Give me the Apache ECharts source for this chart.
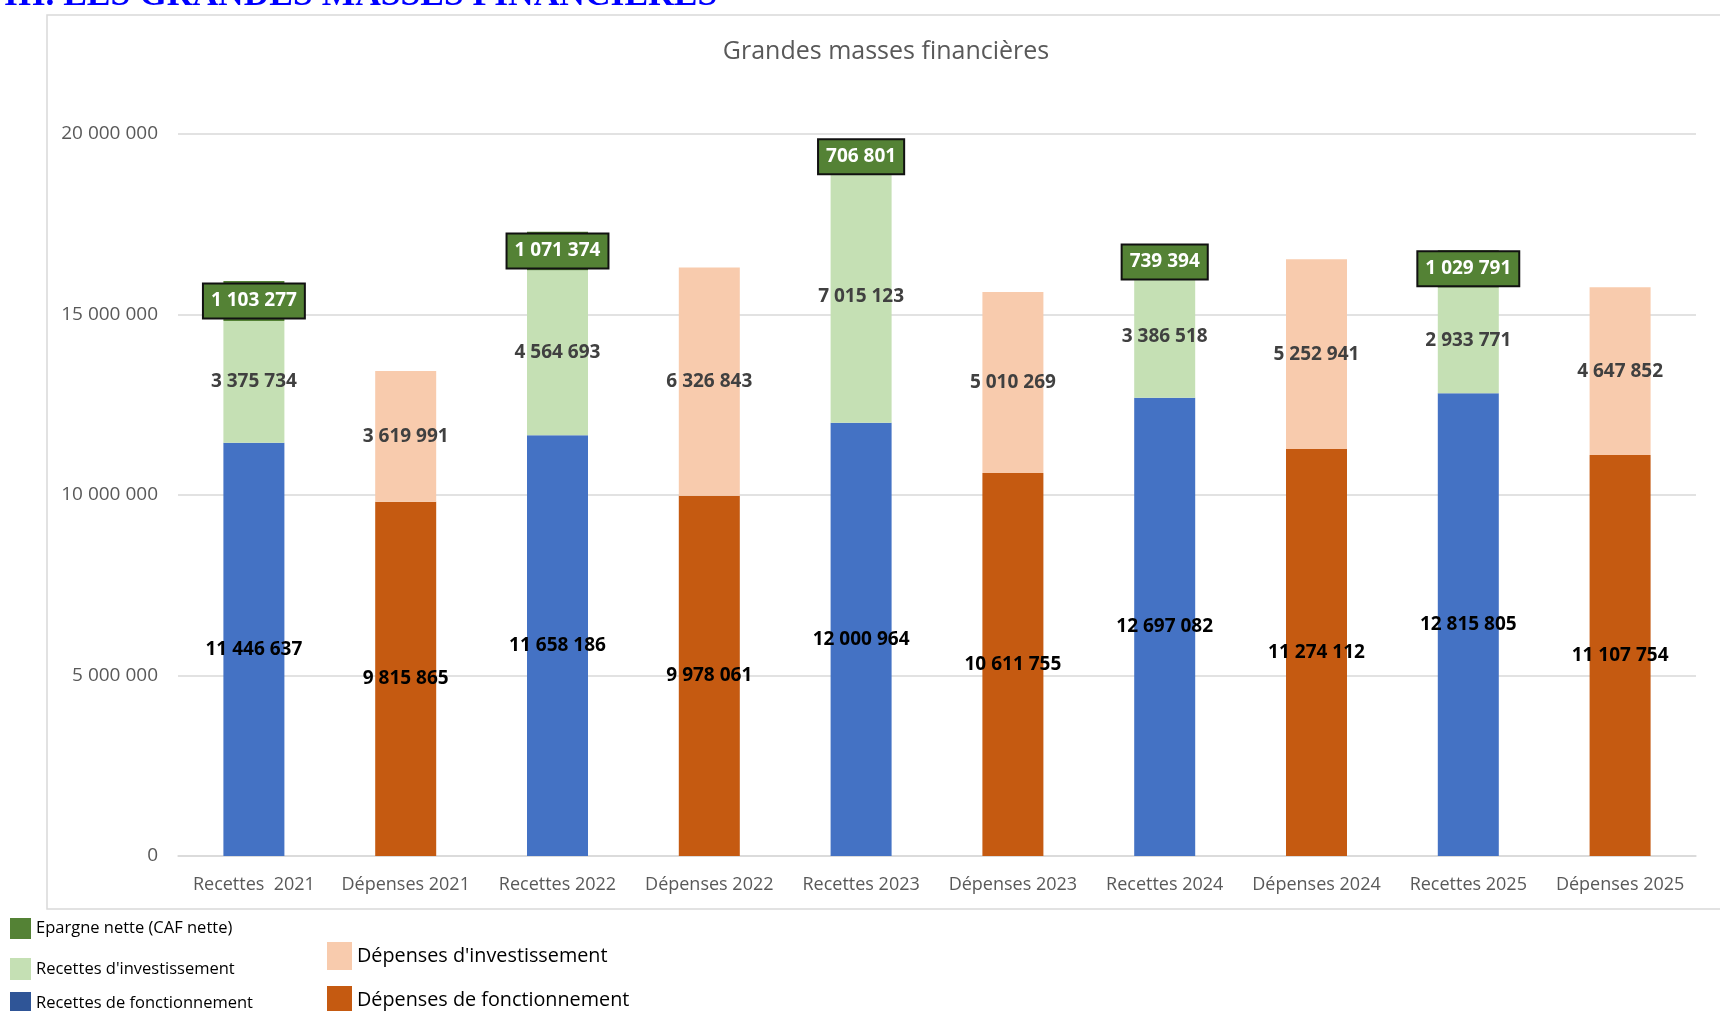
<!DOCTYPE html>
<html lang="fr">
<head>
<meta charset="utf-8">
<title>Grandes masses financières</title>
<script src="https://cdn.jsdelivr.net/npm/echarts@6/dist/echarts.min.js"></script>
<style>
  html, body { margin: 0; padding: 0; background: #fff; }
  #chart { width: 1720px; height: 1011px; }
</style>
</head>
<body>
<div id="chart"></div>
<script>
// Années et libellés des colonnes (recettes puis dépenses pour chaque année)
const years = ['2021', '2022', '2023', '2024', '2025'];
const categories = [
  'Recettes  2021', 'Dépenses 2021', 'Recettes 2022', 'Dépenses 2022',
  'Recettes 2023', 'Dépenses 2023', 'Recettes 2024', 'Dépenses 2024',
  'Recettes 2025', 'Dépenses 2025'
];

// Recettes
const recettesFonctionnement = [11446637, 11658186, 12000964, 12697082, 12815805];
const recettesInvestissement = [3375734, 4564693, 7015123, 3386518, 2933771];
const epargneNette = [1103277, 1071374, 706801, 739394, 1029791];

// Dépenses
const depensesFonctionnement = [9815865, 9978061, 10611755, 11274112, 11107754];
const depensesInvestissement = [3619991, 6326843, 5010269, 5252941, 4647852];

// Graduations de l'axe des valeurs
const yTicks = [0, 5000000, 10000000, 15000000, 20000000];

const FONT = "'Open Sans', 'Noto Sans', sans-serif";

// Place une série annuelle sur les colonnes « Recettes » (0) ou « Dépenses » (1)
function spread(values, slot) {
  const out = [];
  values.forEach(v => {
    if (slot === 0) { out.push(v, null); } else { out.push(null, v); }
  });
  return out;
}

function fmt(v) {
  return String(Math.round(v)).replace(/\B(?=(\d{3})+(?!\d))/g, ' ');
}

const baseLabel = {
  show: true,
  position: 'inside',
  fontFamily: FONT,
  fontWeight: 'bold',
  fontSize: 19,
  formatter: p => (p.value == null ? '' : fmt(p.value))
};

const chart = echarts.init(document.getElementById('chart'), null, { renderer: 'canvas' });

const legendCommon = {
  orient: 'vertical',
  icon: 'rect',
  padding: 0,
  itemGap: 0,
  selectedMode: false
};

chart.setOption({
  animation: false,
  backgroundColor: '#fff',
  grid: { left: 178, right: 24, top: 134, bottom: 155, containLabel: false },
  xAxis: {
    type: 'category',
    data: categories,
    axisLine: { show: true, lineStyle: { color: '#d9d9d9', width: 1.5 } },
    axisTick: { show: false },
    axisLabel: { color: '#595959', fontFamily: FONT, fontSize: 18, margin: 20, interval: 0 }
  },
  yAxis: {
    type: 'value',
    min: yTicks[0],
    max: yTicks[yTicks.length - 1],
    interval: yTicks[1] - yTicks[0],
    axisLine: { show: false },
    axisTick: { show: false },
    splitLine: { lineStyle: { color: '#d9d9d9', width: 1.5 } },
    axisLabel: { color: '#595959', fontFamily: FONT, fontSize: 19, margin: 20, formatter: v => fmt(v) }
  },
  legend: [
    Object.assign({}, legendCommon, {
      left: 10, top: 918, itemWidth: 21, itemHeight: 21,
      textStyle: { fontFamily: FONT, color: '#000', fontSize: 16.5 },
      data: [{ name: 'Epargne nette (CAF nette)', itemStyle: { color: '#548235' } }]
    }),
    Object.assign({}, legendCommon, {
      left: 10, top: 958, itemWidth: 21, itemHeight: 22,
      textStyle: { fontFamily: FONT, color: '#000', fontSize: 16.5 },
      data: [{ name: "Recettes d'investissement", itemStyle: { color: '#C5E0B4' } }]
    }),
    Object.assign({}, legendCommon, {
      left: 10, top: 992, itemWidth: 21, itemHeight: 22,
      textStyle: { fontFamily: FONT, color: '#000', fontSize: 16.5 },
      data: [{ name: 'Recettes de fonctionnement', itemStyle: { color: '#2F5597' } }]
    }),
    Object.assign({}, legendCommon, {
      left: 327, top: 942, itemWidth: 25, itemHeight: 28,
      textStyle: { fontFamily: FONT, color: '#000', fontSize: 19.8 },
      data: [{ name: "Dépenses d'investissement", itemStyle: { color: '#F8CBAD' } }]
    }),
    Object.assign({}, legendCommon, {
      left: 327, top: 986, itemWidth: 25, itemHeight: 28,
      textStyle: { fontFamily: FONT, color: '#000', fontSize: 19.8 },
      data: [{ name: 'Dépenses de fonctionnement', itemStyle: { color: '#C55A11' } }]
    })
  ],
  graphic: [
    {
      type: 'rect',
      z: -1,
      shape: { x: 47, y: 15, width: 1690, height: 894 },
      style: { fill: 'none', stroke: '#d9d9d9', lineWidth: 1.5 }
    },
    {
      type: 'text',
      x: 4, y: -4,
      style: {
        text: 'III. LES GRANDES MASSES FINANCIERES',
        font: "bold 35.5px 'Liberation Serif', 'Times New Roman', serif",
        fill: '#0000ff',
        verticalAlign: 'middle',
        align: 'left'
      }
    },
    {
      type: 'text',
      x: 886, y: 52,
      style: {
        text: 'Grandes masses financières',
        font: "25px " + FONT,
        fill: '#595959',
        align: 'center',
        verticalAlign: 'middle'
      }
    }
  ],
  series: [
    {
      name: 'Recettes de fonctionnement',
      type: 'bar', stack: 'total', barWidth: 61,
      itemStyle: { color: '#4472C4' },
      label: Object.assign({}, baseLabel, { color: '#000' }),
      data: spread(recettesFonctionnement, 0)
    },
    {
      name: 'Dépenses de fonctionnement',
      type: 'bar', stack: 'total', barWidth: 61,
      itemStyle: { color: '#C55A11' },
      label: Object.assign({}, baseLabel, { color: '#000' }),
      data: spread(depensesFonctionnement, 1)
    },
    {
      name: "Recettes d'investissement",
      type: 'bar', stack: 'total', barWidth: 61,
      itemStyle: { color: '#C5E0B4' },
      label: Object.assign({}, baseLabel, { color: '#404040' }),
      data: spread(recettesInvestissement, 0)
    },
    {
      name: "Dépenses d'investissement",
      type: 'bar', stack: 'total', barWidth: 61,
      itemStyle: { color: '#F8CBAD' },
      label: Object.assign({}, baseLabel, { color: '#404040' }),
      data: spread(depensesInvestissement, 1)
    },
    {
      name: 'Epargne nette (CAF nette)',
      type: 'bar', stack: 'total', barWidth: 61,
      itemStyle: { color: '#548235' },
      label: Object.assign({}, baseLabel, {
        color: '#fff',
        backgroundColor: '#548235',
        borderColor: '#111',
        borderWidth: 2,
        lineHeight: 20,
        padding: [7, 7, 6, 7]
      }),
      data: spread(epargneNette, 0)
    }
  ]
});
</script>
</body>
</html>
